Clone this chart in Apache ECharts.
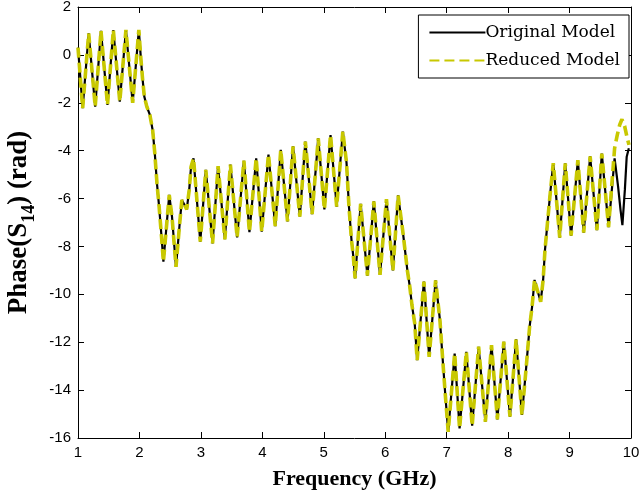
<!DOCTYPE html>
<html>
<head>
<meta charset="utf-8">
<script src="https://cdn.jsdelivr.net/npm/echarts@6/dist/echarts.min.js"></script>
<style>
html,body{margin:0;padding:0;background:#fff;}
#chart{width:641px;height:495px;}
</style>
</head>
<body>
<div id="chart"></div>
<script>
// Shared part of both curves (GHz, rad)
const freq = [
  1.00, 1.076, 1.174, 1.28, 1.374, 1.48, 1.575, 1.68, 1.78, 1.89, 1.99,
  2.025, 2.05, 2.08, 2.12, 2.17, 2.215, 2.25, 2.285, 2.32, 2.355, 2.39,
  2.485, 2.53, 2.595, 2.65, 2.69, 2.73, 2.77, 2.81, 2.84, 2.88,
  2.99, 3.08, 3.19, 3.28, 3.39, 3.48, 3.59, 3.70, 3.79, 3.90, 3.99,
  4.10, 4.21, 4.30, 4.41, 4.50, 4.61, 4.70, 4.81, 4.91, 5.01, 5.11,
  5.21, 5.31, 5.37, 5.41, 5.45, 5.48, 5.51, 5.60, 5.71, 5.815, 5.915,
  6.02, 6.125, 6.21, 6.29, 6.36, 6.40, 6.435, 6.48, 6.52, 6.63, 6.715,
  6.82, 6.89, 6.94, 6.975, 7.025, 7.13, 7.21, 7.32, 7.415, 7.52, 7.63,
  7.73, 7.825, 7.93, 8.03, 8.13, 8.225, 8.30, 8.35, 8.39, 8.43, 8.53,
  8.57, 8.60, 8.64, 8.68, 8.735, 8.84, 8.93, 9.025, 9.135, 9.23, 9.335,
  9.445, 9.525, 9.635
];
const phase = [
  0.30, -2.22, 0.90, -2.16, 1.00, -2.09, 1.04, -1.95, 1.04, -2.00, 1.04,
  -0.21, -0.98, -1.75, -2.16, -2.51, -3.14, -4.11, -5.36, -6.34, -7.45, -8.64,
  -5.85, -6.76, -8.85, -7.18, -6.06, -6.25, -6.45, -5.64, -4.67, -4.32,
  -7.80, -4.80, -7.87, -4.65, -7.70, -4.58, -7.62, -4.42, -7.40, -4.32, -7.38,
  -4.16, -7.15, -3.97, -6.95, -3.82, -6.75, -3.62, -6.65, -3.49, -6.45, -3.35,
  -6.34, -3.20, -4.50, -6.34, -7.70, -8.40, -9.33, -6.22, -9.22, -6.12, -9.19,
  -6.03, -9.00, -5.87, -7.45, -8.99, -9.68, -10.45, -11.21, -12.75, -9.47, -12.61,
  -9.42, -11.07, -12.88, -14.10, -15.74, -12.47, -15.60, -12.40, -15.48, -12.19, -15.32,
  -12.12, -15.22, -11.98, -15.11, -11.88, -15.04, -12.88, -11.35, -10.52, -9.40, -10.31,
  -9.40, -8.15, -7.04, -5.92, -4.52, -7.63, -4.53, -7.55, -4.40, -7.42, -4.24,
  -7.32, -4.12, -7.19
];
// Where the two models part (last ~0.35 GHz)
const freqOrigTail  = [9.733, 9.79, 9.83, 9.86, 9.90, 9.93, 9.965];
const phaseOrigTail = [-4.32, -5.50, -6.48, -7.11, -5.64, -4.25, -3.90];
const freqRedTail   = [9.733, 9.776, 9.815, 9.853, 9.896, 9.934, 9.967];
const phaseRedTail  = [-3.90, -3.35, -2.93, -2.69, -2.97, -3.42, -3.76];

const seriesNames = ['Original Model', 'Reduced Model'];
const xTicks = [1, 10, 1];   // min, max, interval
const yTicks = [-16, 2, 2];

function zip(xs, ys) { return xs.map((x, i) => [x, ys[i]]); }
const origData = zip(freq.concat(freqOrigTail), phase.concat(phaseOrigTail));
const redData  = zip(freq.concat(freqRedTail),  phase.concat(phaseRedTail));

const chart = echarts.init(document.getElementById('chart'), null, {renderer: 'canvas'});
const tickFont = {color: '#000', fontFamily: 'Liberation Sans, Arial, sans-serif', fontSize: 15};
const axisBase = {
  axisLine: {show: true, onZero: false, lineStyle: {color: '#000', width: 1}},
  axisTick: {show: true, inside: true, length: 6, lineStyle: {color: '#000', width: 1}},
  splitLine: {show: false}
};
chart.setOption({
  animation: false,
  backgroundColor: '#fff',
  grid: {left: 78, right: 10, top: 7, bottom: 57, containLabel: false, outerBoundsMode: 'none'},
  legend: {
    orient: 'vertical', right: 12, top: 15,
    backgroundColor: '#fff', borderColor: '#000', borderWidth: 1, borderRadius: 0,
    padding: [9, 9, 9, 10], itemGap: 11, itemWidth: 56, itemHeight: 12,
    itemStyle: {opacity: 0, borderWidth: 0},
    textStyle: {color: '#000', fontFamily: 'DejaVu Serif, serif', fontSize: 17, padding: [0,0,0,-5]},
    data: seriesNames
  },
  xAxis: [
    Object.assign({type: 'value', min: xTicks[0], max: xTicks[1], interval: xTicks[2], position: 'bottom',
      name: 'Frequency (GHz)', nameLocation: 'middle', nameGap: 30,
      nameTextStyle: {color: '#000', fontFamily: 'Liberation Serif, serif', fontSize: 22, fontWeight: 'bold'},
      axisLabel: Object.assign({margin: 7}, tickFont)}, axisBase),
    Object.assign({type: 'value', min: xTicks[0], max: xTicks[1], interval: xTicks[2], position: 'top',
      axisLabel: {show: false}}, axisBase)
  ],
  yAxis: [
    Object.assign({type: 'value', min: yTicks[0], max: yTicks[1], interval: yTicks[2], position: 'left',
      name: '{a|Phase(S}{s|14}{a|) (rad)}', nameLocation: 'middle', nameGap: 43, nameRotate: 90,
      nameTextStyle: {
        rich: {
          a: {color: '#000', fontFamily: 'Liberation Serif, serif', fontSize: 27, fontWeight: 'bold', lineHeight: 29, verticalAlign: 'bottom'},
          s: {color: '#000', fontFamily: 'Liberation Serif, serif', fontSize: 18, fontWeight: 'bold', lineHeight: 29, verticalAlign: 'bottom', padding: [0, 0, -6, 0]}
        }
      },
      axisLabel: Object.assign({margin: 7}, tickFont)}, axisBase),
    Object.assign({type: 'value', min: yTicks[0], max: yTicks[1], interval: yTicks[2], position: 'right',
      axisLabel: {show: false}}, axisBase)
  ],
  series: [
    {name: seriesNames[0], type: 'line', xAxisIndex: 0, yAxisIndex: 0, data: origData,
     symbol: 'none', smooth: false, color: '#000', lineStyle: {color: '#000', width: 2.2}, z: 2},
    {name: seriesNames[1], type: 'line', xAxisIndex: 0, yAxisIndex: 0, data: redData,
     symbol: 'none', smooth: false, color: '#c8c800', lineStyle: {color: '#c8c800', width: 3.6, type: [10, 5]}, z: 3}
  ]
});
</script>
</body>
</html>
